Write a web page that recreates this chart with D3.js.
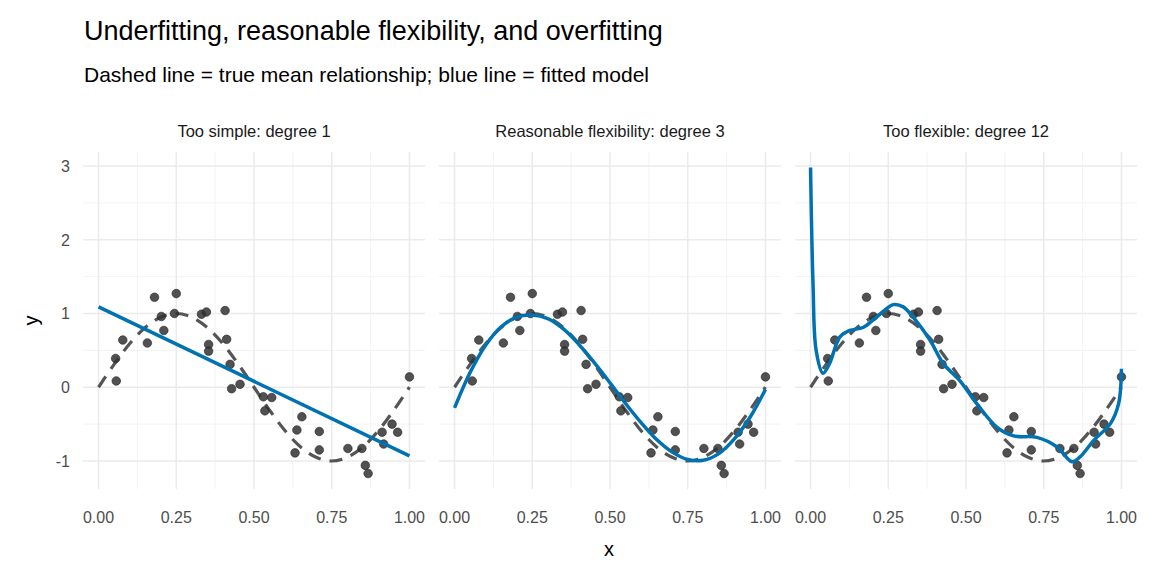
<!DOCTYPE html>
<html><head><meta charset="utf-8">
<script src="https://cdn.jsdelivr.net/npm/d3@7"></script>
<style>body{margin:0;background:#fff;font-family:Arial,"Liberation Sans",sans-serif}</style>
</head><body><svg id="chart" width="1152" height="576"></svg>
<script>
// observed points
var ptX = [0.057,0.055,0.078,0.18,0.157,0.202,0.21,0.25,0.244,0.331,0.347,0.354,0.354,0.407,0.412,0.423,0.428,0.455,0.53,0.557,0.535,0.654,0.638,0.632,0.71,0.71,0.802,0.847,0.858,0.867,0.912,0.917,0.944,0.962,1.0];
var ptY = [0.085,0.39,0.64,1.22,0.6,0.96,0.77,1.27,1.0,0.99,1.02,0.58,0.49,1.04,0.65,0.31,-0.02,0.04,-0.13,-0.14,-0.32,-0.4,-0.58,-0.89,-0.6,-0.85,-0.83,-0.83,-1.06,-1.17,-0.61,-0.77,-0.5,-0.61,0.14];

// true mean (dashed)
var trueX = [0,0.05,0.1,0.15,0.2,0.25,0.3,0.35,0.4,0.45,0.5,0.55,0.6,0.65,0.7,0.75,0.8,0.85,0.9,0.95,1];
var trueY = [0,0.31,0.59,0.81,0.95,1,0.95,0.81,0.59,0.31,0,-0.31,-0.59,-0.81,-0.95,-1,-0.95,-0.81,-0.59,-0.31,0];

// fitted curves
var fit1X = [0,1];
var fit1Y = [1.09,-0.93];
var fit3X = [0,0.05,0.1,0.15,0.2,0.25,0.3,0.35,0.4,0.45,0.5,0.55,0.6,0.65,0.7,0.75,0.8,0.85,0.9,0.95,1];
var fit3Y = [-0.28,0.2,0.57,0.82,0.95,0.98,0.93,0.79,0.58,0.33,0.06,-0.22,-0.48,-0.71,-0.88,-0.98,-0.99,-0.9,-0.7,-0.41,-0.03];
var fit12X = [0,0.008,0.018,0.04,0.061,0.094,0.126,0.169,0.212,0.266,0.298,0.33,0.384,0.427,0.48,0.534,0.599,0.653,0.728,0.793,0.841,0.868,0.911,0.965,0.991,1.0];
var fit12Y = [2.98,1.4,0.5,0.19,0.32,0.68,0.77,0.81,0.95,1.12,1.09,0.95,0.64,0.32,0.09,-0.22,-0.54,-0.66,-0.68,-0.81,-1.01,-0.94,-0.72,-0.49,-0.22,0.25];

var panelTitles = ["Too simple: degree 1","Reasonable flexibility: degree 3","Too flexible: degree 12"];
var fitsX = [fit1X, fit3X, fit12X];
var fitsY = [fit1Y, fit3Y, fit12Y];
var xTicks = [0,0.25,0.5,0.75,1];
var xTickLabels = ["0.00","0.25","0.50","0.75","1.00"];
var yTicks = [-1,0,1,2,3];

var svg = d3.select("#chart");
var panelLeft = [83, 439, 795], panelW = 342, plotTop = 152, plotBottom = 489;

var y = d3.scaleLinear().domain([-1.38, 3.19]).range([plotBottom, plotTop]);

svg.append("text").attr("x", 84).attr("y", 40).attr("font-size", 27).attr("fill", "#000")
  .text("Underfitting, reasonable flexibility, and overfitting");
svg.append("text").attr("x", 84).attr("y", 82).attr("font-size", 21).attr("fill", "#000")
  .text("Dashed line = true mean relationship; blue line = fitted model");

// y tick labels
yTicks.forEach(function(t) {
  svg.append("text").attr("x", 70).attr("y", y(t) + 6).attr("text-anchor", "end")
    .attr("font-size", 16).attr("fill", "#4d4d4d").text(t < 0 ? "-" + Math.abs(t) : t);
});
svg.append("text").attr("transform", "translate(38," + ((plotTop + plotBottom) / 2) + ") rotate(-90)")
  .attr("text-anchor", "middle").attr("font-size", 20).text("y");
svg.append("text").attr("x", 609).attr("y", 556).attr("text-anchor", "middle").attr("font-size", 20).text("x");

panelLeft.forEach(function(left, i) {
  var x = d3.scaleLinear().domain([-0.05, 1.05]).range([left, left + panelW]);
  var g = svg.append("g");
  // minor grid
  [-0.5, 0.5, 1.5, 2.5].forEach(function(v) {
    g.append("line").attr("x1", left).attr("x2", left + panelW).attr("y1", y(v)).attr("y2", y(v))
      .attr("stroke", "#f3f3f3").attr("stroke-width", 1);
  });
  [0.125,0.375,0.625,0.875].forEach(function(v) {
    g.append("line").attr("x1", x(v)).attr("x2", x(v)).attr("y1", plotTop).attr("y2", plotBottom)
      .attr("stroke", "#f3f3f3").attr("stroke-width", 1);
  });
  yTicks.forEach(function(v) {
    g.append("line").attr("x1", left).attr("x2", left + panelW).attr("y1", y(v)).attr("y2", y(v))
      .attr("stroke", "#ebebeb").attr("stroke-width", 1.5);
  });
  xTicks.forEach(function(v, j) {
    g.append("line").attr("x1", x(v)).attr("x2", x(v)).attr("y1", plotTop).attr("y2", plotBottom)
      .attr("stroke", "#ebebeb").attr("stroke-width", 1.5);
    g.append("text").attr("x", x(v)).attr("y", 523).attr("text-anchor", "middle")
      .attr("font-size", 16).attr("fill", "#4d4d4d").text(xTickLabels[j]);
  });
  g.append("text").attr("x", left + panelW / 2).attr("y", 137).attr("text-anchor", "middle")
    .attr("font-size", 16.5).attr("fill", "#1a1a1a").text(panelTitles[i]);

  var line = d3.line().x(function(d){return x(d[0]);}).y(function(d){return y(d[1]);})
    .curve(d3.curveCatmullRom);
  g.append("path").datum(d3.zip(trueX, trueY)).attr("d", line)
    .attr("fill", "none").attr("stroke", "#555").attr("stroke-width", 3.2)
    .attr("stroke-dasharray", "13,9");
  g.selectAll("circle").data(d3.zip(ptX, ptY)).join("circle")
    .attr("cx", function(d){return x(d[0]);}).attr("cy", function(d){return y(d[1]);})
    .attr("r", 4.3).attr("fill", "#333").attr("fill-opacity", 0.85)
    .attr("stroke", "#222").attr("stroke-width", 0.6);
  g.append("path").datum(d3.zip(fitsX[i], fitsY[i])).attr("d", line)
    .attr("fill", "none").attr("stroke", "#0072B2").attr("stroke-width", 3.5);
});
</script></body></html>
